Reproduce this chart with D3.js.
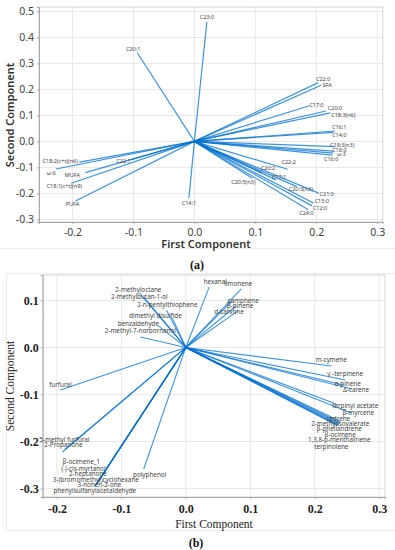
<!DOCTYPE html>
<html>
<head>
<meta charset="utf-8">
<script src="https://cdn.jsdelivr.net/npm/d3@7"></script>
<style>
body { margin: 0; background: #fff; }
</style>
</head>
<body>
<div id="chart"></div>
<script>
// panel (a) - loadings of the fatty acids
var namesA = ["C23:0", "C20:1", "C22:0", "SFA", "C17:0", "C20:0", "C18:3(n6)", "C16:1", "C14:0",
    "C18:3(n3)", "C18:0", "ω-3", "C16:0", "C22:2", "C20:2", "C17:1", "C20:5(n3)", "C20:3(n3)",
    "C21:0", "C15:0", "C12:0", "C24:0", "C18:2(c+t)(n6)", "ω-6", "MUFA", "C18:1(c+t)(n9)",
    "PUFA", "C22:1", "C14:1"];
var pc1A = [0.0205, -0.094, 0.203, 0.208, 0.189, 0.216, 0.223, 0.231, 0.228,
    0.231, 0.228, 0.228, 0.226, 0.153, 0.111, 0.134, 0.095, 0.168,
    0.204, 0.196, 0.193, 0.187, -0.189, -0.227, -0.179, -0.202,
    -0.195, -0.105, -0.009];
var pc2A = [0.460, 0.342, 0.226, 0.216, 0.137, 0.117, 0.110, 0.040, 0.035,
    -0.020, -0.037, -0.045, -0.053, -0.107, -0.121, -0.148, -0.142, -0.174,
    -0.199, -0.238, -0.248, -0.263, -0.080, -0.106, -0.120, -0.161,
    -0.229, -0.071, -0.218];

// panel (b) - loadings of the volatile compounds
var namesB = ["hexanal", "limonene", "camphene", "β-pinene", "d-carvone",
    "2-methyloctane", "2-methylbutan-1-ol", "2-n-pentylthiophene", "dimethyl disulfide",
    "benzaldehyde", "2-methyl-7-norbornanol",
    "m-cymene", "γ -terpinene", "α-pinene", "Δ-carene", "terpinyl acetate", "β-myrcene",
    "cedrene", "2-methylisovalerate", "β-phellandrene", "β-ocimene", "1,3,8-p-menthatriene",
    "terpinolene",
    "furfural", "5-methyl furfural", "2-Propanone", "β-ocimene_1", "(-)-cis-myrtanol",
    "2-heptanone", "3-(bromomethyl)cyclohexane", "3-nonen-2-one", "phenylsulfanylacetaldehyde",
    "polyphenol"];
var pc1B = [0.0364, 0.086, 0.072, 0.078, 0.081,
    -0.0721, -0.0643, -0.0302, -0.0209,
    -0.0426, -0.0705,
    0.2256, 0.2473, 0.2447, 0.2577, 0.2333, 0.2566,
    0.2395, 0.2395, 0.238, 0.2364, 0.2364,
    0.235,
    -0.1946, -0.1868, -0.1915, -0.1388, -0.1403,
    -0.1395, -0.138, -0.1372, -0.1411,
    -0.0654];
var pc2B = [0.1287, 0.1245, 0.099, 0.088, 0.0777,
    0.116, 0.1053, 0.0798, 0.0628,
    0.0457, 0.0223,
    -0.0394, -0.0691, -0.0798, -0.0883, -0.1202, -0.1394,
    -0.1572, -0.160, -0.1617, -0.1638, -0.1649,
    -0.166,
    -0.0904, -0.216, -0.2223, -0.2904, -0.2936,
    -0.2926, -0.2904, -0.2883, -0.2957,
    -0.2591];

var xTicks = [-0.2, -0.1, 0.0, 0.1, 0.2, 0.3];
var yTicksA = [-0.3, -0.2, -0.1, 0.0, 0.1, 0.2, 0.3, 0.4, 0.5];
var yTicksB = [-0.3, -0.2, -0.1, 0.0, 0.1];

// label nudges in pixels (label centre relative to arrow tip)
var nudgeA = [[0,-5],[-4,-3],[5,-4],[6,0],[7,-1],[9,-3],[13,2],[4,-4],[6,3],
    [7,-2],[6,-1],[8,1],[-1,4],[1,-7],[6,-5],[3,-3],[-9,4],[4,2],
    [8,1],[8,-2],[8,2],[-2,3],[-19,-1],[-5,4],[-13,2],[-7,3],
    [-3,3],[-7,1],[0,5]];
var nudgeB = [[6,-5],[-3,-5],[11,0],[4,0],[-9,1],
    [-1,-3],[-5,-1],[1,-5],[-17,-2],
    [-20,-2],[0,-6],
    [0,-6],[0,-6],[4,-1],[4,1],[19,2],[7,0],
    [-2,-3],[0,1],[0,5],[2,10],[1,15],
    [-6,21],
    [0,-5],[-1,-9],[1,-7],[-15,-22],[-12,-17],
    [-8,-11],[-1,-4],[2,2],[0,4],
    [6,5]];

var W = 395, H = 550;
var svg = d3.select("#chart").append("svg")
    .attr("width", W)
    .attr("height", H)
    .style("font-family", "'Noto Sans', sans-serif");

var fmt = function(d) { return d.toFixed(1); };

function drawPanel(opt) {
    var x = d3.scaleLinear().domain(opt.xDomain).range([opt.left, opt.right]);
    var y = d3.scaleLinear().domain(opt.yDomain).range([opt.bottom, opt.top]);
    var g = svg.append("g");

    // grid
    g.selectAll(".vg").data(xTicks).enter().append("line")
        .attr("x1", d => x(d)).attr("x2", d => x(d))
        .attr("y1", opt.top).attr("y2", opt.bottom)
        .attr("stroke", "#e8e8e8");
    g.selectAll(".hg").data(opt.yTicks).enter().append("line")
        .attr("x1", opt.left).attr("x2", opt.right)
        .attr("y1", d => y(d)).attr("y2", d => y(d))
        .attr("stroke", "#e8e8e8");

    // frame
    g.append("rect")
        .attr("x", opt.left).attr("y", opt.top)
        .attr("width", opt.right - opt.left).attr("height", opt.bottom - opt.top)
        .attr("fill", "none").attr("stroke", "#d4d4d4");

    // axes
    var ax = g.append("g").attr("transform", "translate(0," + opt.bottom + ")")
        .call(d3.axisBottom(x).tickValues(xTicks).tickSize(2).tickPadding(opt.xPad).tickFormat(fmt));
    var ay = g.append("g").attr("transform", "translate(" + opt.left + ",0)")
        .call(d3.axisLeft(y).tickValues(opt.yTicks).tickSize(2).tickPadding(opt.yPad).tickFormat(fmt));
    [ax, ay].forEach(function(a) {
        a.select(".domain").attr("stroke", "#a8a8a8");
        a.selectAll(".tick line").attr("stroke", "#a8a8a8");
        a.selectAll(".tick text")
            .attr("fill", opt.tickColor)
            .style("font-family", opt.tickFont)
            .style("font-size", opt.tickSize)
            .style("font-weight", opt.tickWeight);
    });

    // loading vectors
    var idx = d3.range(opt.names.length);
    g.selectAll(".vec").data(idx).enter().append("line")
        .attr("x1", x(0)).attr("y1", y(0))
        .attr("x2", i => x(opt.pc1[i]))
        .attr("y2", i => y(opt.pc2[i]))
        .attr("stroke", "#0070d0")
        .attr("stroke-opacity", 0.75)
        .attr("stroke-width", opt.lineW);

    g.selectAll(".lab").data(idx).enter().append("text")
        .attr("x", i => x(opt.pc1[i]) + opt.nudge[i][0])
        .attr("y", i => y(opt.pc2[i]) + opt.nudge[i][1])
        .attr("dy", "0.35em")
        .attr("text-anchor", "middle")
        .attr("fill", opt.labColor)
        .style("font-size", opt.labSize)
        .text(i => opt.names[i]);

    // axis titles
    g.append("text")
        .attr("x", opt.xTitle[0]).attr("y", opt.xTitle[1])
        .attr("text-anchor", "middle")
        .attr("fill", opt.titleColor)
        .style("font-family", opt.titleFont)
        .style("font-size", opt.titleSize)
        .style("font-weight", opt.titleWeight)
        .text("First Component");
    g.append("text")
        .attr("transform", "translate(" + opt.yTitle[0] + "," + opt.yTitle[1] + ") rotate(-90)")
        .attr("text-anchor", "middle")
        .attr("fill", opt.titleColor)
        .style("font-family", opt.titleFont)
        .style("font-size", opt.titleSize)
        .style("font-weight", opt.titleWeight)
        .text("Second Component");

    // caption
    svg.append("text")
        .attr("x", opt.caption[0]).attr("y", opt.caption[1])
        .attr("text-anchor", "middle")
        .attr("fill", "#111")
        .style("font-family", "'Liberation Serif', serif")
        .style("font-size", "12px")
        .style("font-weight", "bold")
        .text(opt.captionText);
}

// faint borders of the two figure images
svg.append("line").attr("x1", 0).attr("x2", W).attr("y1", 248.5).attr("y2", 248.5).attr("stroke", "#ededed");
svg.append("path").attr("d", "M6,273.5H395M6.5,273V530.5H395").attr("fill", "none").attr("stroke", "#ededed");

drawPanel({
    names: namesA, pc1: pc1A, pc2: pc2A, nudge: nudgeA, yTicks: yTicksA,
    xDomain: [-0.255, 0.309], yDomain: [-0.31, 0.517],
    left: 39, right: 382.7, top: 7, bottom: 222,
    xPad: 5, yPad: 3,
    tickColor: "#444", tickFont: "'Noto Sans', sans-serif", tickSize: "10.5px", tickWeight: "normal",
    labColor: "#444", labSize: "5.5px", lineW: 1.2,
    titleColor: "#333", titleFont: "'Noto Sans', sans-serif", titleSize: "11px", titleWeight: "600",
    xTitle: [206, 248], yTitle: [14, 115],
    caption: [197, 269], captionText: "(a)"
});

drawPanel({
    names: namesB, pc1: pc1B, pc2: pc2B, nudge: nudgeB, yTicks: yTicksB,
    xDomain: [-0.222, 0.309], yDomain: [-0.318, 0.154],
    left: 42.7, right: 385, top: 275, bottom: 497,
    xPad: 5, yPad: 2,
    tickColor: "#222", tickFont: "'Liberation Serif', serif", tickSize: "12px", tickWeight: "bold",
    labColor: "#444", labSize: "6.3px", lineW: 1.1,
    titleColor: "#222", titleFont: "'Liberation Serif', serif", titleSize: "11.5px", titleWeight: "normal",
    xTitle: [214, 528], yTitle: [14, 386],
    caption: [196, 547], captionText: "(b)"
});
</script>
</body>
</html>
